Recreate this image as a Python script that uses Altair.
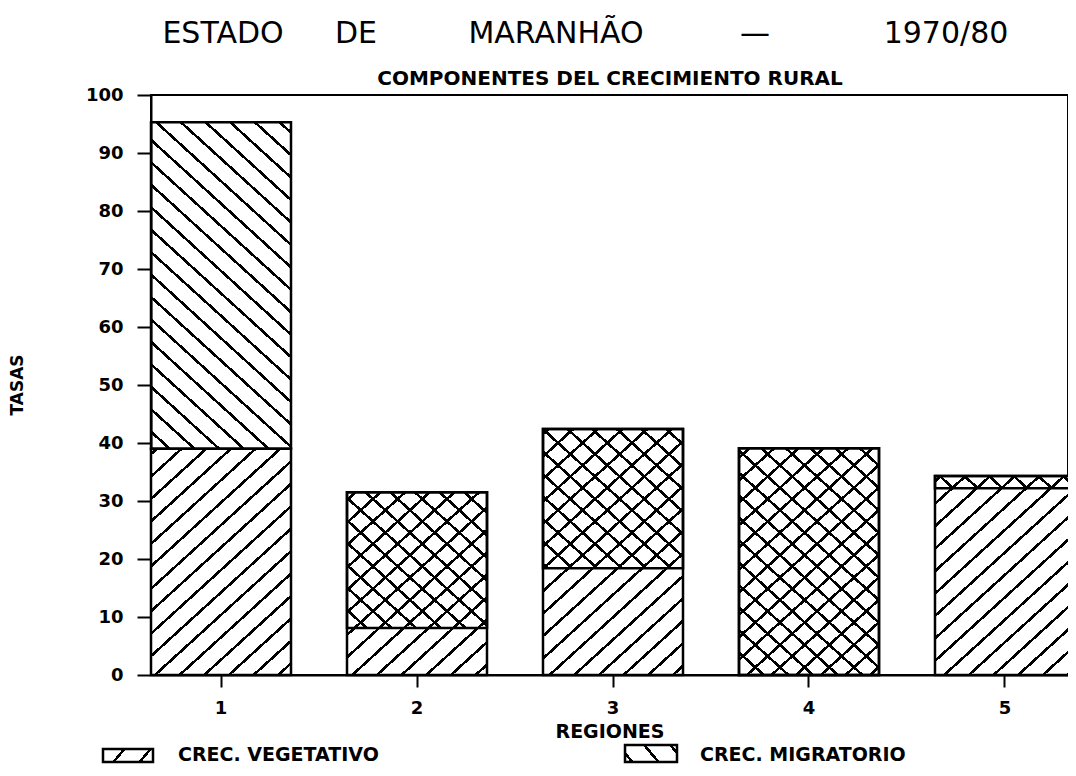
import math
import altair as alt
import pandas as pd

# ---------------- data ----------------
regions = ["1", "2", "3", "4", "5"]
vegetativo = [39.0, 31.5, 42.4, 39.1, 34.3]
migratorio = [56.3, -23.4, -24.0, -39.1, -2.1]
y_ticks = [0, 10, 20, 30, 40, 50, 60, 70, 80, 90, 100]
title_words = ["ESTADO", "DE", "MARANHÃO", "—", "1970/80"]
subtitle_text = "COMPONENTES DEL CRECIMIENTO RURAL"
x_title_text = "REGIONES"
y_title_text = "TASAS"
legend_labels = ["CREC. VEGETATIVO", "CREC. MIGRATORIO"]

# ---------------- layout / style ----------------
RANGE_W = 924          # x range of the bars (last bar runs off the page edge)
PLOT_W, PLOT_H = 917, 580
PAD = {"left": 143, "top": 87, "right": 0, "bottom": 89}
Y_MAX = 100
PAD_INNER = 0.2857
STEP = RANGE_W / (len(regions) - PAD_INNER)
BAND = STEP * (1 - PAD_INNER)
PX = PLOT_H / Y_MAX
OX, OY = 151, 95  # page position of plot origin

TITLE_X = [223, 356, 556, 755, 946]
BOLD = "DejaVu Sans"

ANGLE = math.radians(42.3)
SPACING = 16.6
LINE_W = 2.6
WHITE = "#ffffff"
CLEAR = "rgba(255,255,255,0)"


def hatch(x0, y0, w, h, kind, bg, angle=ANGLE, spacing=SPACING, lw=LINE_W):
    p, q = math.sin(angle), math.cos(angle)
    L = p * w + q * h
    a = L / (p * p * w * w + q * q * h * h)
    if kind == "/":
        x1, y1, x2, y2 = 0, 0, a * p * w, a * q * h
        shift = p * x0 + q * y0
    else:
        x1, y1, x2, y2 = 0, 1, a * p * w, 1 - a * q * h
        shift = p * x0 - q * (y0 + h)
    stops = [{"offset": 0, "color": bg}]
    k = math.ceil((shift - lw) / spacing)
    while True:
        c = k * spacing - shift
        if c - lw / 2 > L:
            break
        t0 = max(0.0, (c - lw / 2) / L)
        t1 = min(1.0, (c + lw / 2) / L)
        if t1 > 0 and t0 < 1:
            stops += [
                {"offset": round(t0, 5), "color": bg},
                {"offset": round(t0, 5), "color": "black"},
                {"offset": round(t1, 5), "color": "black"},
                {"offset": round(t1, 5), "color": bg},
            ]
        k += 1
    stops.append({"offset": 1, "color": bg})
    return {"gradient": "linear", "x1": x1, "y1": y1, "x2": x2, "y2": y2, "stops": stops}


df = pd.DataFrame({"region": regions, "veg": vegetativo, "mig": migratorio})
df["veg_lo"] = 0.0
df["veg_hi"] = df["veg"]
df["mig_lo"] = df["veg"]
df["mig_hi"] = df["veg"] + df["mig"]

x_enc = alt.X(
    "region:O",
    scale=alt.Scale(domain=regions, paddingInner=PAD_INNER, paddingOuter=0, range=[0, RANGE_W]),
    axis=alt.Axis(
        title=None, labelAngle=0, tickSize=12, labelPadding=12, tickWidth=2,
        domainWidth=2, domainColor="black", tickColor="black", labelColor="black",
        labelFont=BOLD, labelFontWeight="bold", labelFontSize=18,
    ),
)


def y_enc(field):
    return alt.Y(
        f"{field}:Q",
        scale=alt.Scale(domain=[0, Y_MAX], nice=False, zero=True),
        axis=alt.Axis(
            title=None, values=y_ticks, tickSize=14, labelPadding=14, tickWidth=2,
            domainWidth=2, domainColor="black", tickColor="black", labelColor="black",
            labelFont=BOLD, labelFontWeight="bold", labelFontSize=18, grid=False,
        ),
    )


layers = []
for kind, lo_f, hi_f, bg in [("/", "veg_lo", "veg_hi", WHITE), ("\\", "mig_lo", "mig_hi", CLEAR)]:
    for i, r in enumerate(regions):
        lo, hi = df.loc[i, lo_f], df.loc[i, hi_f]
        top, bot = max(lo, hi), min(lo, hi)
        h = max((top - bot) * PX, 0.5)
        grad = hatch(i * STEP, (Y_MAX - top) * PX, BAND, h, kind, bg)
        layers.append(
            alt.Chart(df)
            .transform_filter(alt.datum.region == r)
            .mark_bar(fill=grad, stroke="black", strokeWidth=2.5, strokeJoin="miter")
            .encode(x=x_enc, y=y_enc(hi_f), y2=f"{lo_f}:Q")
        )

one = alt.Data(values=[{"k": 1}])


def text_layer(txt, x_abs, y_abs, size, weight="bold", font=BOLD, align="center", angle=0):
    kw = dict(text=txt, font=font, fontSize=size, fontWeight=weight, color="black",
              align=align, baseline="middle")
    if angle:
        kw["angle"] = angle
    return alt.Chart(one).mark_text(**kw).encode(
        x=alt.value(x_abs - OX), y=alt.value(y_abs - OY)
    )


for w, cx in zip(title_words, TITLE_X):
    layers.append(text_layer(w, cx, 34, 30, weight="normal"))
layers.append(text_layer(subtitle_text, 610, 79, 20))
layers.append(text_layer(y_title_text, 18, 385, 17, angle=270))
layers.append(text_layer(x_title_text, 610, 732, 19))
layers.append(text_layer(legend_labels[0], 178, 755, 19, align="left"))
layers.append(text_layer(legend_labels[1], 700, 755, 19, align="left"))

# legend swatches
for (x0a, x1a, y0a, y1a, kind) in [(103, 153, 749, 762, "/"), (625, 677, 745, 762, "\\")]:
    w, h = x1a - x0a, y1a - y0a
    g = hatch(x0a - OX, y0a - OY, w, h, kind, WHITE, angle=math.radians(50), spacing=20)
    layers.append(
        alt.Chart(one).mark_rect(fill=g, stroke="black", strokeWidth=2.5).encode(
            x=alt.value(x0a - OX), x2=alt.value(x1a - OX),
            y=alt.value(y0a - OY), y2=alt.value(y1a - OY),
        )
    )

chart = (
    alt.layer(*layers)
    .properties(
        width=PLOT_W, height=PLOT_H,
        autosize=alt.AutoSizeParams(type="none"),
        padding=PAD, background="white",
    )
    .configure_view(stroke="black", strokeWidth=2)
)

chart.save("out.html", embed_options={"renderer": "svg", "actions": False})
